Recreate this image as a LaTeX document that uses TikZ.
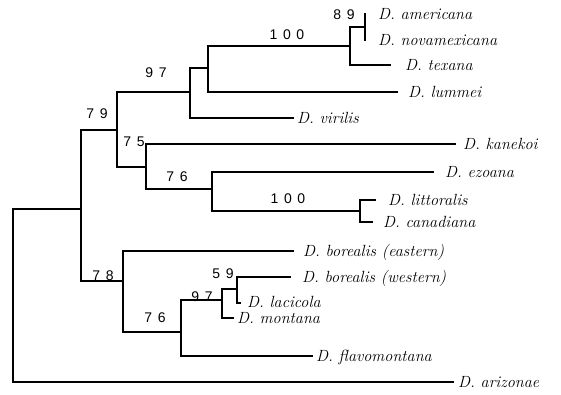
\documentclass[tikz,border=0pt]{standalone}
\usepackage{fontspec}
\newfontfamily\supfont{Liberation Sans}[LetterSpace=40]
\begin{document}
\begin{tikzpicture}[x=1pt,y=-1pt,
  branch/.style={draw=black,line width=1.2pt,line cap=rect},
  taxon/.style={anchor=base west,inner sep=0pt,text height=10pt,text depth=0.5pt,
    font=\fontsize{16.2}{18}\selectfont\itshape\addfontfeatures{LetterSpace=5}},
  support/.style={inner sep=0pt,font=\supfont\fontsize{14}{16}\selectfont}]
\useasboundingbox (0,0) rectangle (561,394);

% internal nodes (x = node depth, y = incoming branch)
\coordinate (root) at (13,295);
\coordinate (n1)   at (81,209);
\coordinate (n79)  at (117,130);
\coordinate (n97)  at (190,92);
\coordinate (n100a) at (208,68);
\coordinate (nam)  at (350,46);
\coordinate (n89)  at (365,27);
\coordinate (n75)  at (146,167);
\coordinate (n76a) at (212,189);
\coordinate (n100b) at (360,211);
\coordinate (n78)  at (123,281);
\coordinate (n76b) at (181,332);
\coordinate (n97b) at (222,300);
\coordinate (n59)  at (237,289);

% leaf tips
\coordinate (americana) at (365,14);
\coordinate (novamexicana) at (365,40);
\coordinate (texana) at (390,65);
\coordinate (lummei) at (397,92);
\coordinate (virilis) at (293,118);
\coordinate (kanekoi) at (455,144);
\coordinate (ezoana) at (433,172);
\coordinate (littoralis) at (375,200);
\coordinate (canadiana) at (372,222);
\coordinate (borealisE) at (293,251);
\coordinate (borealisW) at (290,277);
\coordinate (lacicola) at (240,303);
\coordinate (montana) at (233,318);
\coordinate (flavomontana) at (312,356);
\coordinate (arizonae) at (453,382);

% branches
\draw[branch] (root) |- (n1);
\draw[branch] (root) |- (arizonae);
\draw[branch] (n1) |- (n79);
\draw[branch] (n1) |- (n78);
\draw[branch] (n79) |- (n97);
\draw[branch] (n79) |- (n75);
\draw[branch] (n97) |- (n100a);
\draw[branch] (n97) |- (virilis);
\draw[branch] (n100a) |- (nam);
\draw[branch] (n100a) |- (lummei);
\draw[branch] (nam) |- (n89);
\draw[branch] (nam) |- (texana);
\draw[branch] (n89) -- (americana);
\draw[branch] (n89) -- (novamexicana);
\draw[branch] (n75) |- (kanekoi);
\draw[branch] (n75) |- (n76a);
\draw[branch] (n76a) |- (ezoana);
\draw[branch] (n76a) |- (n100b);
\draw[branch] (n100b) |- (littoralis);
\draw[branch] (n100b) |- (canadiana);
\draw[branch] (n78) |- (borealisE);
\draw[branch] (n78) |- (n76b);
\draw[branch] (n76b) |- (n97b);
\draw[branch] (n76b) |- (flavomontana);
\draw[branch] (n97b) |- (n59);
\draw[branch] (n97b) |- (montana);
\draw[branch] (n59) |- (borealisW);
\draw[branch] (n59) |- (lacicola);

% taxon names
\node[taxon] (tam) at ([xshift=13pt,yshift=-5pt]americana) {D. americana};
\node[taxon] (tno) at ([xshift=13pt,yshift=-5pt]novamexicana) {D. novamexicana};
\node[taxon] (tte) at ([xshift=15pt,yshift=-5pt]texana) {D. texana};
\node[taxon] (tlu) at ([xshift=11pt,yshift=-5pt]lummei) {D. lummei};
\node[taxon] (tvi) at ([xshift=4pt,yshift=-5pt]virilis) {D. virilis};
\node[taxon] (tka) at ([xshift=8pt,yshift=-5pt]kanekoi) {D. kanekoi};
\node[taxon] (tez) at ([xshift=12pt,yshift=-5pt]ezoana) {D. ezoana};
\node[taxon] (tli) at ([xshift=13pt,yshift=-5pt]littoralis) {D. littoralis};
\node[taxon] (tca) at ([xshift=11pt,yshift=-5pt]canadiana) {D. canadiana};
\node[taxon] (tbe) at ([xshift=10pt,yshift=-5pt]borealisE) {D. borealis (eastern)};
\node[taxon] (tbw) at ([xshift=12pt,yshift=-5pt]borealisW) {D. borealis (western)};
\node[taxon] (tla) at ([xshift=7pt,yshift=-4pt]lacicola) {D. lacicola};
\node[taxon] (tmo) at ([xshift=4pt,yshift=-5.5pt]montana) {D. montana};
\node[taxon] (tfl) at ([xshift=4pt,yshift=-5pt]flavomontana) {D. flavomontana};
\node[taxon] (tar) at ([xshift=5pt,yshift=-5pt]arizonae) {D. arizonae};

% bootstrap support values
\node[support] (s89)  at (344,15) {89};
\node[support] (s100a) at (287,35) {100};
\node[support] (s97)  at (156,73) {97};
\node[support] (s79)  at (97,114) {79};
\node[support] (s75)  at (134,142) {75};
\node[support] (s76a) at (177,177) {76};
\node[support] (s100b) at (288,199) {100};
\node[support] (s78)  at (103,276) {78};
\node[support] (s76b) at (155,318) {76};
\node[support] (s97b) at (202,297) {97};
\node[support] (s59)  at (223,274) {59};
\end{tikzpicture}
\end{document}
